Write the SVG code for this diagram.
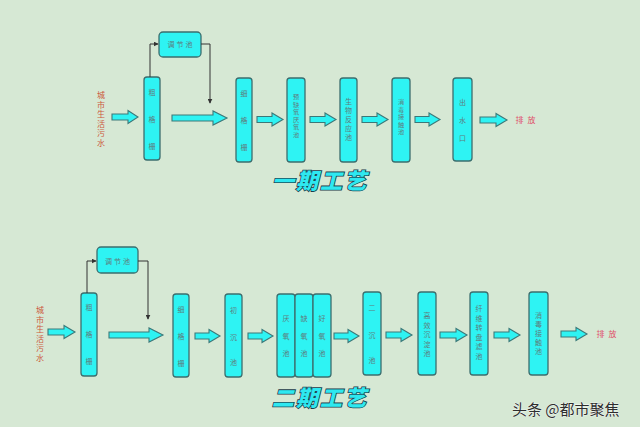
<svg xmlns="http://www.w3.org/2000/svg" width="640" height="427" viewBox="0 0 640 427">
<defs>
<style>
.bx{fill:#2ef3f3;stroke:#3c6e6e;stroke-width:1.3}
.ar{fill:#2ef3f3;stroke:#3c7878;stroke-width:1.1}
.ln{fill:none;stroke:#333;stroke-width:1}
.t{font-family:"Noto Sans CJK SC","Liberation Sans",sans-serif;font-size:7px;fill:#5f7c7c;text-anchor:middle}
.ts{font-family:"Noto Sans CJK SC","Liberation Sans",sans-serif;font-size:6.2px;fill:#5f7c7c;text-anchor:middle}
.tj{font-family:"Noto Sans CJK SC","Liberation Sans",sans-serif;font-size:7px;fill:#5f7c7c;text-anchor:middle;letter-spacing:2px}
.r{font-family:"Noto Sans CJK SC","Liberation Sans",sans-serif;font-size:8px;fill:#cc5a3c;text-anchor:middle}
.p{font-family:"Noto Sans CJK SC","Liberation Sans",sans-serif;font-size:8px;fill:#e0506a;text-anchor:middle;letter-spacing:1px}
.ti{font-family:"Noto Sans CJK SC","Liberation Sans",sans-serif;font-size:22px;font-weight:900;font-style:italic;fill:#2ee8f0;stroke:#1a3a48;stroke-width:1.6;paint-order:stroke;text-anchor:middle;letter-spacing:2px}
.wm{font-family:"Noto Sans CJK SC","Liberation Sans",sans-serif;font-size:15px;fill:#2e2e2e;stroke:#ffffff;stroke-width:0.6;paint-order:stroke}
</style>
<marker id="ah" viewBox="0 0 8 8" refX="7" refY="4" markerWidth="5" markerHeight="5" orient="auto"><path d="M0,0 L8,4 L0,8 Z" fill="#333"/></marker>
</defs>
<rect width="640" height="427" fill="#d6e8d4"/>

<!-- ===== Phase 1 ===== -->
<g id="src1"><text class="r"><tspan x="101" y="98">城</tspan><tspan x="101" y="107.5">市</tspan><tspan x="101" y="117">生</tspan><tspan x="101" y="126.5">活</tspan><tspan x="101" y="136">污</tspan><tspan x="101" y="145.5">水</tspan></text></g>
<g id="cgs1"><rect class="bx" x="144" y="77" width="16" height="83" rx="3"/><text class="t"><tspan x="152" y="95">粗</tspan><tspan x="152" y="122">格</tspan><tspan x="152" y="149">栅</tspan></text></g>
<g id="tjc1"><rect class="bx" x="159" y="32" width="42" height="25" rx="4"/><text class="tj" x="181" y="47">调节池</text></g>
<g id="xgs1"><rect class="bx" x="236" y="78" width="16" height="84" rx="3"/><text class="t"><tspan x="244" y="96">细</tspan><tspan x="244" y="123">格</tspan><tspan x="244" y="150">栅</tspan></text></g>
<g id="yq1"><rect class="bx" x="287" y="78" width="18" height="84" rx="3"/><text class="ts"><tspan x="296" y="99">预</tspan><tspan x="296" y="106.5">缺</tspan><tspan x="296" y="114">氧</tspan><tspan x="296" y="121.5">厌</tspan><tspan x="296" y="129">氧</tspan><tspan x="296" y="136.5">池</tspan></text></g>
<g id="sw1"><rect class="bx" x="340" y="78" width="17" height="84" rx="3"/><text class="t"><tspan x="348.5" y="104">生</tspan><tspan x="348.5" y="113">物</tspan><tspan x="348.5" y="122">反</tspan><tspan x="348.5" y="131">应</tspan><tspan x="348.5" y="140">池</tspan></text></g>
<g id="xd1"><rect class="bx" x="392" y="78" width="18" height="84" rx="3"/><text class="ts"><tspan x="401" y="104">消</tspan><tspan x="401" y="111.5">毒</tspan><tspan x="401" y="119">接</tspan><tspan x="401" y="126.5">触</tspan><tspan x="401" y="134">池</tspan></text></g>
<g id="csk1"><rect class="bx" x="453" y="78" width="19" height="83" rx="3"/><text class="t"><tspan x="462.5" y="105">出</tspan><tspan x="462.5" y="123">水</tspan><tspan x="462.5" y="141">口</tspan></text></g>
<g id="pf1"><text class="p" x="526" y="123">排 放</text></g>
<text class="ti" x="320" y="189">一期工艺</text>

<!-- ===== Phase 2 ===== -->
<g id="src2"><text class="r"><tspan x="40" y="313">城</tspan><tspan x="40" y="322.5">市</tspan><tspan x="40" y="332">生</tspan><tspan x="40" y="341.5">活</tspan><tspan x="40" y="351">污</tspan><tspan x="40" y="360.5">水</tspan></text></g>
<g id="cgs2"><rect class="bx" x="81" y="293" width="16" height="83" rx="3"/><text class="t"><tspan x="89" y="310">粗</tspan><tspan x="89" y="337">格</tspan><tspan x="89" y="364">栅</tspan></text></g>
<g id="tjc2"><rect class="bx" x="97" y="247" width="41" height="26" rx="4"/><text class="tj" x="118.5" y="263.5">调节池</text></g>
<g id="xgs2"><rect class="bx" x="173" y="294" width="16" height="83" rx="3"/><text class="t"><tspan x="181" y="312">细</tspan><tspan x="181" y="339">格</tspan><tspan x="181" y="366">栅</tspan></text></g>
<g id="ccc2"><rect class="bx" x="225" y="294" width="17" height="83" rx="3"/><text class="t"><tspan x="233.5" y="313">初</tspan><tspan x="233.5" y="340">沉</tspan><tspan x="233.5" y="365">池</tspan></text></g>
<g id="yyc2"><rect class="bx" x="277" y="294" width="18" height="83" rx="3"/><text class="t"><tspan x="286" y="321">厌</tspan><tspan x="286" y="339">氧</tspan><tspan x="286" y="356">池</tspan></text></g>
<g id="qyc2"><rect class="bx" x="295" y="294" width="18" height="83" rx="3"/><text class="t"><tspan x="304" y="321">缺</tspan><tspan x="304" y="339">氧</tspan><tspan x="304" y="356">池</tspan></text></g>
<g id="hyc2"><rect class="bx" x="313" y="294" width="18" height="83" rx="3"/><text class="t"><tspan x="322" y="321">好</tspan><tspan x="322" y="339">氧</tspan><tspan x="322" y="356">池</tspan></text></g>
<g id="ecc2"><rect class="bx" x="363" y="292" width="18" height="83" rx="3"/><text class="t"><tspan x="372" y="310">二</tspan><tspan x="372" y="338">沉</tspan><tspan x="372" y="363">池</tspan></text></g>
<g id="gx2"><rect class="bx" x="418" y="292" width="18" height="83" rx="3"/><text class="t"><tspan x="427" y="318">高</tspan><tspan x="427" y="327.5">效</tspan><tspan x="427" y="337">沉</tspan><tspan x="427" y="346.5">淀</tspan><tspan x="427" y="356">池</tspan></text></g>
<g id="xw2"><rect class="bx" x="470" y="292" width="18" height="83" rx="3"/><text class="t"><tspan x="479" y="311">纤</tspan><tspan x="479" y="320.5">维</tspan><tspan x="479" y="330">转</tspan><tspan x="479" y="339.5">盘</tspan><tspan x="479" y="349">滤</tspan><tspan x="479" y="358.5">池</tspan></text></g>
<g id="xd2"><rect class="bx" x="529" y="292" width="19" height="83" rx="3"/><text class="t"><tspan x="538.5" y="318">消</tspan><tspan x="538.5" y="327">毒</tspan><tspan x="538.5" y="336">接</tspan><tspan x="538.5" y="345">触</tspan><tspan x="538.5" y="354">池</tspan></text></g>
<g id="pf2"><text class="p" x="607" y="337">排 放</text></g>
<text class="ti" x="320" y="406">二期工艺</text>

<!-- ===== Connectors ===== -->
<g id="connectors">
<path class="ln" d="M150,77 V44 H158" marker-end="url(#ah)"/>
<path class="ln" d="M201,44 H210 V103" marker-end="url(#ah)"/>
<path class="ln" d="M87,293 V261 H96" marker-end="url(#ah)"/>
<path class="ln" d="M138,261 H148 V319" marker-end="url(#ah)"/>
<path class="ar" d="M112,114 H128 V110.5 L138,117 L128,123.5 V120 H112 Z"/>
<path class="ar" d="M172,115 H213 V111 L227,118 L213,125 V121 H172 Z"/>
<path class="ar" d="M257,116.5 H272 V113 L283,119.5 L272,126 V122.5 H257 Z"/>
<path class="ar" d="M310,116.5 H325 V113 L336,119.5 L325,126 V122.5 H310 Z"/>
<path class="ar" d="M362,116.5 H377 V113 L388,119.5 L377,126 V122.5 H362 Z"/>
<path class="ar" d="M415,116.5 H429 V113 L440,119.5 L429,126 V122.5 H415 Z"/>
<path class="ar" d="M480,117 H496 V113.5 L507,120 L496,126.5 V123 H480 Z"/>
<path class="ar" d="M48,329 H64 V325.5 L75,332 L64,338.5 V335 H48 Z"/>
<path class="ar" d="M109,332 H149 V328 L163,335 L149,342 V338 H109 Z"/>
<path class="ar" d="M195,333 H209 V329.5 L220,336 L209,342.5 V339 H195 Z"/>
<path class="ar" d="M248,333 H262 V329.5 L273,336 L262,342.5 V339 H248 Z"/>
<path class="ar" d="M334,333 H348 V329.5 L359,336 L348,342.5 V339 H334 Z"/>
<path class="ar" d="M386,332 H401 V328.5 L412,335 L401,341.5 V338 H386 Z"/>
<path class="ar" d="M440,332 H456 V328.5 L467,335 L456,341.5 V338 H440 Z"/>
<path class="ar" d="M494,332 H509 V328.5 L520,335 L509,341.5 V338 H494 Z"/>
<path class="ar" d="M561,331 H576 V327.5 L587,334 L576,340.5 V337 H561 Z"/>
</g>

<text class="wm" x="512" y="415">头条 @都市聚焦</text>
</svg>
